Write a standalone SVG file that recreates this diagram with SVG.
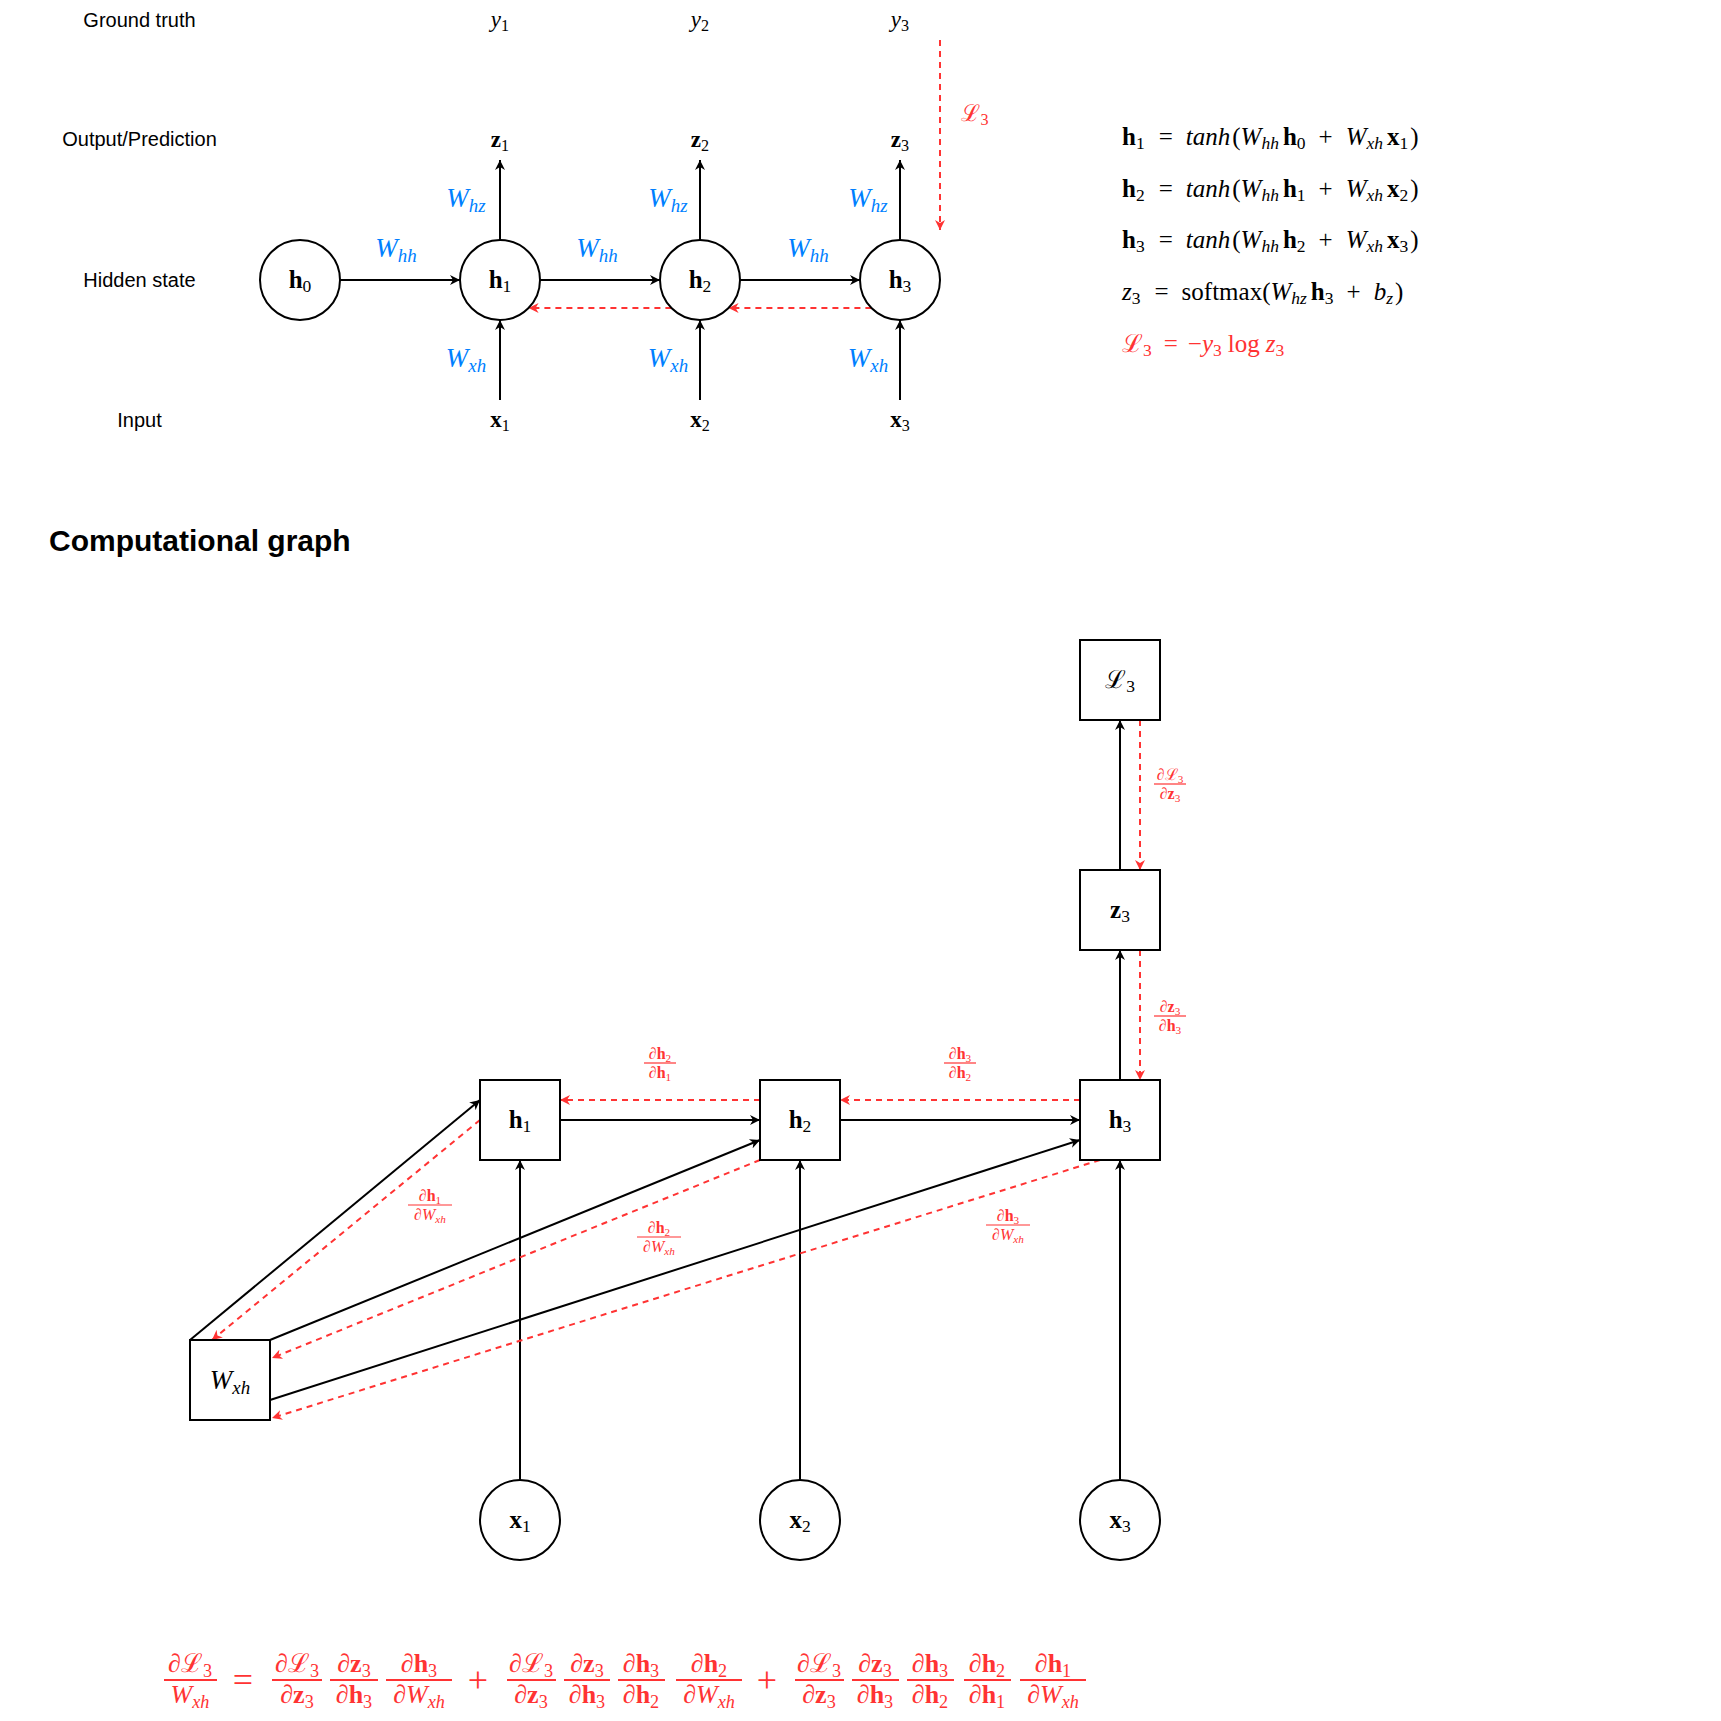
<svg xmlns="http://www.w3.org/2000/svg" width="1721" height="1721" viewBox="0 0 1721 1721">
<style>
.lbl{font-family:"Liberation Sans",Arial,sans-serif;font-size:20px;fill:#000;text-anchor:middle}
.title{font-family:"Liberation Sans",Arial,sans-serif;font-size:30px;font-weight:bold;fill:#000}
.m{font-family:"Liberation Serif","DejaVu Serif",serif;fill:#000}
.it{font-style:italic}
.bf{font-weight:bold}
.s{font-size:70%}
.nl{font-size:25px;text-anchor:middle}
.ml{font-size:23px;text-anchor:middle}
.wl{font-size:27px;text-anchor:middle}
.blue{fill:#007FFF}
.red{fill:#FF3333}
.eq{font-size:25px}
.fr{font-size:16px;text-anchor:middle;fill:#FF3333}
.big{font-size:26px;text-anchor:middle;fill:#FF3333}
.op{font-size:36px;text-anchor:middle;fill:#FF3333}
.node{fill:#fff;stroke:#000;stroke-width:2}
.e{fill:none;stroke:#000;stroke-width:2}
.r{fill:none;stroke:#FF3333;stroke-width:2;stroke-dasharray:6 5}
.bar{stroke:#FF3333;stroke-width:1.2}
.bbar{stroke:#FF3333;stroke-width:1.8}
</style>
<defs>
<marker id="a" viewBox="0 0 10 10" refX="10" refY="5" markerWidth="11" markerHeight="10" markerUnits="userSpaceOnUse" orient="auto">
<path d="M0,0 L10,5 L0,10 L3,5 Z" fill="#000"/>
</marker>
<marker id="ar" viewBox="0 0 10 10" refX="10" refY="5" markerWidth="11" markerHeight="10" markerUnits="userSpaceOnUse" orient="auto">
<path d="M0,0 L10,5 L0,10 L3,5 Z" fill="#FF3333"/>
</marker>
</defs>
<rect width="1721" height="1721" fill="#fff"/>

<!-- Row labels -->
<g id="row-labels">
<text class="lbl" x="139.5" y="27">Ground truth</text>
<text class="lbl" x="139.5" y="146">Output/Prediction</text>
<text class="lbl" x="139.5" y="287">Hidden state</text>
<text class="lbl" x="139.5" y="427">Input</text>
</g>

<!-- Top connectors -->
<g id="top-connectors">
<path class="e" d="M340,280 L460,280" marker-end="url(#a)"/>
<path class="e" d="M540,280 L660,280" marker-end="url(#a)"/>
<path class="e" d="M740,280 L860,280" marker-end="url(#a)"/>
<path class="e" d="M500,240 L500,160" marker-end="url(#a)"/>
<path class="e" d="M700,240 L700,160" marker-end="url(#a)"/>
<path class="e" d="M900,240 L900,160" marker-end="url(#a)"/>
<path class="e" d="M500,400 L500,320" marker-end="url(#a)"/>
<path class="e" d="M700,400 L700,320" marker-end="url(#a)"/>
<path class="e" d="M900,400 L900,320" marker-end="url(#a)"/>
<path class="r" d="M871.4,308 L728.6,308" marker-end="url(#ar)"/>
<path class="r" d="M671.4,308 L528.6,308" marker-end="url(#ar)"/>
<path class="r" d="M940,40 L940,230" marker-end="url(#ar)"/>
</g>

<!-- Top nodes -->
<g id="top-h0"><circle class="node" cx="300" cy="280" r="40"/><text class="m nl" x="300" y="288"><tspan class="bf">h</tspan><tspan class="s" dy="4">0</tspan></text></g>
<g id="top-h1"><circle class="node" cx="500" cy="280" r="40"/><text class="m nl" x="500" y="288"><tspan class="bf">h</tspan><tspan class="s" dy="4">1</tspan></text></g>
<g id="top-h2"><circle class="node" cx="700" cy="280" r="40"/><text class="m nl" x="700" y="288"><tspan class="bf">h</tspan><tspan class="s" dy="4">2</tspan></text></g>
<g id="top-h3"><circle class="node" cx="900" cy="280" r="40"/><text class="m nl" x="900" y="288"><tspan class="bf">h</tspan><tspan class="s" dy="4">3</tspan></text></g>

<g id="top-y"><text class="m ml" x="500" y="27"><tspan class="it">y</tspan><tspan class="s" dy="4">1</tspan></text>
<text class="m ml" x="700" y="27"><tspan class="it">y</tspan><tspan class="s" dy="4">2</tspan></text>
<text class="m ml" x="900" y="27"><tspan class="it">y</tspan><tspan class="s" dy="4">3</tspan></text></g>
<g id="top-z"><text class="m ml" x="500" y="147"><tspan class="bf">z</tspan><tspan class="s" dy="4">1</tspan></text>
<text class="m ml" x="700" y="147"><tspan class="bf">z</tspan><tspan class="s" dy="4">2</tspan></text>
<text class="m ml" x="900" y="147"><tspan class="bf">z</tspan><tspan class="s" dy="4">3</tspan></text></g>
<g id="top-x"><text class="m ml" x="500" y="427"><tspan class="bf">x</tspan><tspan class="s" dy="4">1</tspan></text>
<text class="m ml" x="700" y="427"><tspan class="bf">x</tspan><tspan class="s" dy="4">2</tspan></text>
<text class="m ml" x="900" y="427"><tspan class="bf">x</tspan><tspan class="s" dy="4">3</tspan></text></g>

<g id="top-weights">
<text class="m wl blue" x="466" y="207"><tspan class="it">W</tspan><tspan class="s it" dy="5">hz</tspan></text>
<text class="m wl blue" x="668" y="207"><tspan class="it">W</tspan><tspan class="s it" dy="5">hz</tspan></text>
<text class="m wl blue" x="868" y="207"><tspan class="it">W</tspan><tspan class="s it" dy="5">hz</tspan></text>
<text class="m wl blue" x="396" y="257"><tspan class="it">W</tspan><tspan class="s it" dy="5">hh</tspan></text>
<text class="m wl blue" x="597" y="257"><tspan class="it">W</tspan><tspan class="s it" dy="5">hh</tspan></text>
<text class="m wl blue" x="808" y="257"><tspan class="it">W</tspan><tspan class="s it" dy="5">hh</tspan></text>
<text class="m wl blue" x="466" y="367"><tspan class="it">W</tspan><tspan class="s it" dy="5">xh</tspan></text>
<text class="m wl blue" x="668" y="367"><tspan class="it">W</tspan><tspan class="s it" dy="5">xh</tspan></text>
<text class="m wl blue" x="868" y="367"><tspan class="it">W</tspan><tspan class="s it" dy="5">xh</tspan></text>
<text class="m ml red" x="975" y="121"><tspan>ℒ</tspan><tspan class="s" dy="4">3</tspan></text>
</g>

<!-- Equations -->
<g id="equations">
<text class="m eq" x="1122" y="145"><tspan class="bf">h</tspan><tspan class="s" dy="4">1</tspan><tspan dy="-4" dx="14">=</tspan><tspan class="it" dx="13">tanh</tspan><tspan dx="2">(</tspan><tspan class="it">W</tspan><tspan class="s it" dy="4">hh</tspan><tspan class="bf" dy="-4" dx="4">h</tspan><tspan class="s" dy="4">0</tspan><tspan dy="-4" dx="13">+</tspan><tspan class="it" dx="13">W</tspan><tspan class="s it" dy="4">xh</tspan><tspan class="bf" dy="-4" dx="4">x</tspan><tspan class="s" dy="4">1</tspan><tspan dy="-4" dx="2">)</tspan></text>
<text class="m eq" x="1122" y="197"><tspan class="bf">h</tspan><tspan class="s" dy="4">2</tspan><tspan dy="-4" dx="14">=</tspan><tspan class="it" dx="13">tanh</tspan><tspan dx="2">(</tspan><tspan class="it">W</tspan><tspan class="s it" dy="4">hh</tspan><tspan class="bf" dy="-4" dx="4">h</tspan><tspan class="s" dy="4">1</tspan><tspan dy="-4" dx="13">+</tspan><tspan class="it" dx="13">W</tspan><tspan class="s it" dy="4">xh</tspan><tspan class="bf" dy="-4" dx="4">x</tspan><tspan class="s" dy="4">2</tspan><tspan dy="-4" dx="2">)</tspan></text>
<text class="m eq" x="1122" y="248"><tspan class="bf">h</tspan><tspan class="s" dy="4">3</tspan><tspan dy="-4" dx="14">=</tspan><tspan class="it" dx="13">tanh</tspan><tspan dx="2">(</tspan><tspan class="it">W</tspan><tspan class="s it" dy="4">hh</tspan><tspan class="bf" dy="-4" dx="4">h</tspan><tspan class="s" dy="4">2</tspan><tspan dy="-4" dx="13">+</tspan><tspan class="it" dx="13">W</tspan><tspan class="s it" dy="4">xh</tspan><tspan class="bf" dy="-4" dx="4">x</tspan><tspan class="s" dy="4">3</tspan><tspan dy="-4" dx="2">)</tspan></text>
<text class="m eq" x="1122" y="300"><tspan class="it">z</tspan><tspan class="s" dy="4">3</tspan><tspan dy="-4" dx="14">=</tspan><tspan dx="13">softmax(</tspan><tspan class="it">W</tspan><tspan class="s it" dy="4">hz</tspan><tspan class="bf" dy="-4" dx="4">h</tspan><tspan class="s" dy="4">3</tspan><tspan dy="-4" dx="13">+</tspan><tspan class="it" dx="13">b</tspan><tspan class="s it" dy="4">z</tspan><tspan dy="-4" dx="2">)</tspan></text>
<text class="m eq red" x="1122" y="352"><tspan>ℒ</tspan><tspan class="s" dy="4">3</tspan><tspan dy="-4" dx="12">=</tspan><tspan dx="10">−</tspan><tspan class="it">y</tspan><tspan class="s" dy="4">3</tspan><tspan dy="-4" dx="6">log</tspan><tspan class="it" dx="6">z</tspan><tspan class="s" dy="4">3</tspan></text>
</g>

<text class="title" x="49" y="551">Computational graph</text>

<!-- Bottom connectors -->
<g id="connectors">
<path class="e" d="M520,1480 L520,1160" marker-end="url(#a)"/>
<path class="e" d="M800,1480 L800,1160" marker-end="url(#a)"/>
<path class="e" d="M1120,1480 L1120,1160" marker-end="url(#a)"/>
<path class="e" d="M560,1120 L760,1120" marker-end="url(#a)"/>
<path class="e" d="M840,1120 L1080,1120" marker-end="url(#a)"/>
<path class="e" d="M1120,1080 L1120,950" marker-end="url(#a)"/>
<path class="e" d="M1120,870 L1120,720" marker-end="url(#a)"/>
<path class="e" d="M190,1340 L480,1100" marker-end="url(#a)"/>
<path class="e" d="M270,1340 L760,1140" marker-end="url(#a)"/>
<path class="e" d="M270,1400 L1080,1140" marker-end="url(#a)"/>
<path class="r" d="M1140,720 L1140,870" marker-end="url(#ar)"/>
<path class="r" d="M1140,950 L1140,1080" marker-end="url(#ar)"/>
<path class="r" d="M1080,1100 L840,1100" marker-end="url(#ar)"/>
<path class="r" d="M760,1100 L560,1100" marker-end="url(#ar)"/>
<path class="r" d="M480,1120 L212,1340" marker-end="url(#ar)"/>
<path class="r" d="M760,1160 L272,1358" marker-end="url(#ar)"/>
<path class="r" d="M1100,1160 L272,1418" marker-end="url(#ar)"/>
</g>

<!-- Bottom nodes -->
<g id="L3"><rect class="node" x="1080" y="640" width="80" height="80"/><text class="m nl" x="1120" y="688"><tspan>ℒ</tspan><tspan class="s" dy="4">3</tspan></text></g>
<g id="z3"><rect class="node" x="1080" y="870" width="80" height="80"/><text class="m nl" x="1120" y="918"><tspan class="bf">z</tspan><tspan class="s" dy="4">3</tspan></text></g>
<g id="h3"><rect class="node" x="1080" y="1080" width="80" height="80"/><text class="m nl" x="1120" y="1128"><tspan class="bf">h</tspan><tspan class="s" dy="4">3</tspan></text></g>
<g id="h2"><rect class="node" x="760" y="1080" width="80" height="80"/><text class="m nl" x="800" y="1128"><tspan class="bf">h</tspan><tspan class="s" dy="4">2</tspan></text></g>
<g id="h1"><rect class="node" x="480" y="1080" width="80" height="80"/><text class="m nl" x="520" y="1128"><tspan class="bf">h</tspan><tspan class="s" dy="4">1</tspan></text></g>
<g id="Wxh"><rect class="node" x="190" y="1340" width="80" height="80"/><text class="m wl" x="230" y="1389"><tspan class="it">W</tspan><tspan class="s it" dy="5">xh</tspan></text></g>
<g id="x1"><circle class="node" cx="520" cy="1520" r="40"/><text class="m nl" x="520" y="1528"><tspan class="bf">x</tspan><tspan class="s" dy="4">1</tspan></text></g>
<g id="x2"><circle class="node" cx="800" cy="1520" r="40"/><text class="m nl" x="800" y="1528"><tspan class="bf">x</tspan><tspan class="s" dy="4">2</tspan></text></g>
<g id="x3"><circle class="node" cx="1120" cy="1520" r="40"/><text class="m nl" x="1120" y="1528"><tspan class="bf">x</tspan><tspan class="s" dy="4">3</tspan></text></g>

<!-- Edge labels (fractions) -->
<g id="edge-labels">
<text class="m fr" x="1170" y="780">∂ℒ<tspan class="s" dy="3">3</tspan></text><line class="bar" x1="1154" y1="784" x2="1186" y2="784"/><text class="m fr" x="1170" y="799">∂<tspan class="bf">z</tspan><tspan class="s" dy="3">3</tspan></text>
<text class="m fr" x="1170" y="1012">∂<tspan class="bf">z</tspan><tspan class="s" dy="3">3</tspan></text><line class="bar" x1="1154" y1="1016" x2="1186" y2="1016"/><text class="m fr" x="1170" y="1031">∂<tspan class="bf">h</tspan><tspan class="s" dy="3">3</tspan></text>
<text class="m fr" x="660" y="1059">∂<tspan class="bf">h</tspan><tspan class="s" dy="3">2</tspan></text><line class="bar" x1="644" y1="1063" x2="676" y2="1063"/><text class="m fr" x="660" y="1078">∂<tspan class="bf">h</tspan><tspan class="s" dy="3">1</tspan></text>
<text class="m fr" x="960" y="1059">∂<tspan class="bf">h</tspan><tspan class="s" dy="3">3</tspan></text><line class="bar" x1="944" y1="1063" x2="976" y2="1063"/><text class="m fr" x="960" y="1078">∂<tspan class="bf">h</tspan><tspan class="s" dy="3">2</tspan></text>
<text class="m fr" x="430" y="1201">∂<tspan class="bf">h</tspan><tspan class="s" dy="3">1</tspan></text><line class="bar" x1="408" y1="1205" x2="452" y2="1205"/><text class="m fr" x="430" y="1220">∂<tspan class="it">W</tspan><tspan class="s it" dy="3">xh</tspan></text>
<text class="m fr" x="659" y="1233">∂<tspan class="bf">h</tspan><tspan class="s" dy="3">2</tspan></text><line class="bar" x1="637" y1="1237" x2="681" y2="1237"/><text class="m fr" x="659" y="1252">∂<tspan class="it">W</tspan><tspan class="s it" dy="3">xh</tspan></text>
<text class="m fr" x="1008" y="1221">∂<tspan class="bf">h</tspan><tspan class="s" dy="3">3</tspan></text><line class="bar" x1="986" y1="1225" x2="1030" y2="1225"/><text class="m fr" x="1008" y="1240">∂<tspan class="it">W</tspan><tspan class="s it" dy="3">xh</tspan></text>
</g>

<!-- Bottom equation -->
<g id="gradient-equation">
<text class="m big" x="190" y="1672">∂ℒ<tspan class="s" dy="5">3</tspan></text><line class="bbar" x1="164" y1="1680" x2="217" y2="1680"/><text class="m big" x="190" y="1703"><tspan class="it">W</tspan><tspan class="s it" dy="5">xh</tspan></text>
<text class="m op" x="243" y="1692">=</text>
<text class="m big" x="297" y="1672">∂ℒ<tspan class="s" dy="5">3</tspan></text><line class="bbar" x1="272" y1="1680" x2="322" y2="1680"/><text class="m big" x="297" y="1703">∂<tspan class="bf">z</tspan><tspan class="s" dy="5">3</tspan></text>
<text class="m big" x="354" y="1672">∂<tspan class="bf">z</tspan><tspan class="s" dy="5">3</tspan></text><line class="bbar" x1="330" y1="1680" x2="378" y2="1680"/><text class="m big" x="354" y="1703">∂<tspan class="bf">h</tspan><tspan class="s" dy="5">3</tspan></text>
<text class="m big" x="419" y="1672">∂<tspan class="bf">h</tspan><tspan class="s" dy="5">3</tspan></text><line class="bbar" x1="386" y1="1680" x2="452" y2="1680"/><text class="m big" x="419" y="1703">∂<tspan class="it">W</tspan><tspan class="s it" dy="5">xh</tspan></text>
<text class="m op" x="478" y="1692">+</text>
<text class="m big" x="531" y="1672">∂ℒ<tspan class="s" dy="5">3</tspan></text><line class="bbar" x1="507" y1="1680" x2="556" y2="1680"/><text class="m big" x="531" y="1703">∂<tspan class="bf">z</tspan><tspan class="s" dy="5">3</tspan></text>
<text class="m big" x="587" y="1672">∂<tspan class="bf">z</tspan><tspan class="s" dy="5">3</tspan></text><line class="bbar" x1="564" y1="1680" x2="610" y2="1680"/><text class="m big" x="587" y="1703">∂<tspan class="bf">h</tspan><tspan class="s" dy="5">3</tspan></text>
<text class="m big" x="641" y="1672">∂<tspan class="bf">h</tspan><tspan class="s" dy="5">3</tspan></text><line class="bbar" x1="618" y1="1680" x2="665" y2="1680"/><text class="m big" x="641" y="1703">∂<tspan class="bf">h</tspan><tspan class="s" dy="5">2</tspan></text>
<text class="m big" x="709" y="1672">∂<tspan class="bf">h</tspan><tspan class="s" dy="5">2</tspan></text><line class="bbar" x1="676" y1="1680" x2="742" y2="1680"/><text class="m big" x="709" y="1703">∂<tspan class="it">W</tspan><tspan class="s it" dy="5">xh</tspan></text>
<text class="m op" x="767" y="1692">+</text>
<text class="m big" x="819" y="1672">∂ℒ<tspan class="s" dy="5">3</tspan></text><line class="bbar" x1="795" y1="1680" x2="844" y2="1680"/><text class="m big" x="819" y="1703">∂<tspan class="bf">z</tspan><tspan class="s" dy="5">3</tspan></text>
<text class="m big" x="875" y="1672">∂<tspan class="bf">z</tspan><tspan class="s" dy="5">3</tspan></text><line class="bbar" x1="852" y1="1680" x2="899" y2="1680"/><text class="m big" x="875" y="1703">∂<tspan class="bf">h</tspan><tspan class="s" dy="5">3</tspan></text>
<text class="m big" x="930" y="1672">∂<tspan class="bf">h</tspan><tspan class="s" dy="5">3</tspan></text><line class="bbar" x1="907" y1="1680" x2="954" y2="1680"/><text class="m big" x="930" y="1703">∂<tspan class="bf">h</tspan><tspan class="s" dy="5">2</tspan></text>
<text class="m big" x="987" y="1672">∂<tspan class="bf">h</tspan><tspan class="s" dy="5">2</tspan></text><line class="bbar" x1="964" y1="1680" x2="1011" y2="1680"/><text class="m big" x="987" y="1703">∂<tspan class="bf">h</tspan><tspan class="s" dy="5">1</tspan></text>
<text class="m big" x="1053" y="1672">∂<tspan class="bf">h</tspan><tspan class="s" dy="5">1</tspan></text><line class="bbar" x1="1020" y1="1680" x2="1086" y2="1680"/><text class="m big" x="1053" y="1703">∂<tspan class="it">W</tspan><tspan class="s it" dy="5">xh</tspan></text>
</g>
</svg>
